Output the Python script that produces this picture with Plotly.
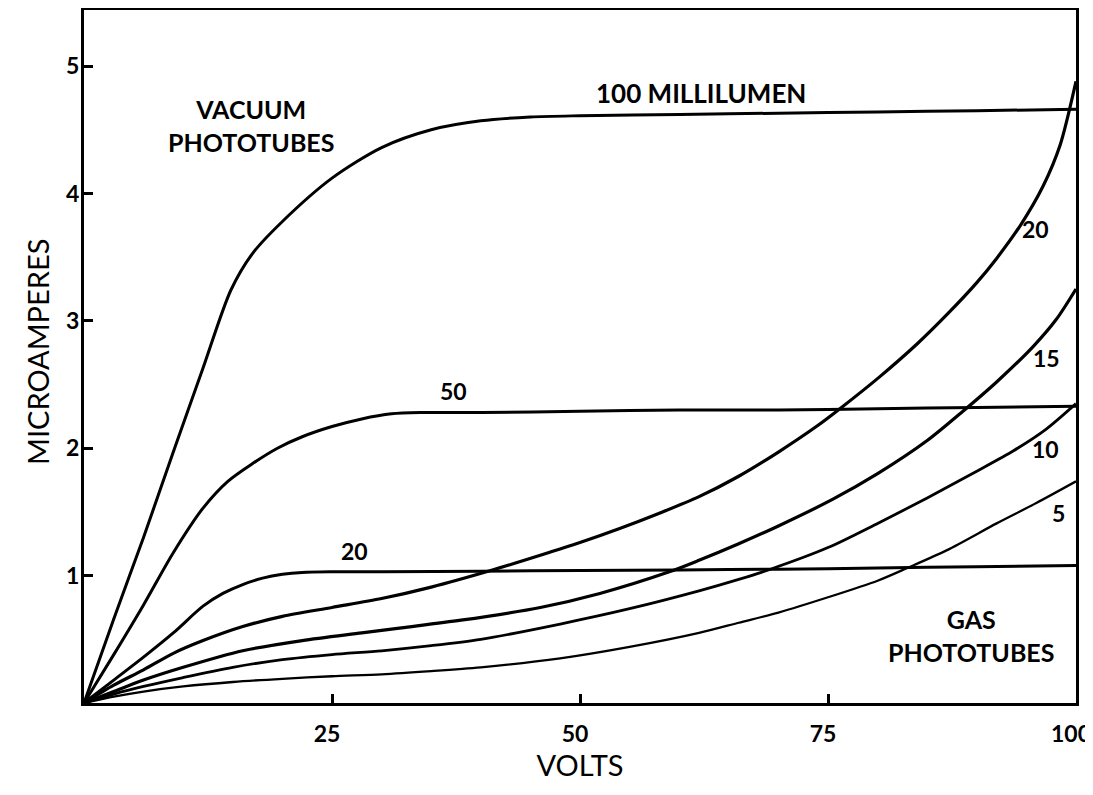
import plotly.graph_objects as go

# ---- data (volts vs microamperes) ----
vac100_v = [0, 3, 6, 9, 12, 14.8, 17, 20, 25, 30, 35, 40, 45, 50, 60, 70, 80, 90, 100]
vac100_i = [0, 0.66, 1.3, 1.97, 2.63, 3.24, 3.53, 3.78, 4.12, 4.36, 4.5, 4.57, 4.6, 4.61, 4.62, 4.63, 4.64, 4.65, 4.66]

vac50_v = [0, 3, 6, 9, 12, 14.5, 17, 19.5, 22, 25, 28, 31, 34, 40, 50, 60, 70, 80, 90, 100]
vac50_i = [0, 0.38, 0.77, 1.18, 1.53, 1.74, 1.88, 2.0, 2.09, 2.17, 2.23, 2.27, 2.28, 2.28, 2.29, 2.3, 2.3, 2.31, 2.32, 2.33]

vac20_v = [0, 3, 6, 9, 12, 14, 16, 18, 20, 22, 25, 30, 40, 50, 60, 70, 80, 90, 100]
vac20_i = [0, 0.18, 0.36, 0.55, 0.76, 0.86, 0.93, 0.98, 1.01, 1.025, 1.03, 1.03, 1.035, 1.04, 1.045, 1.05, 1.06, 1.07, 1.08]

gas20_v = [0, 3, 6, 9, 12, 16, 20, 25, 30, 35, 41, 46, 50, 54, 58, 62, 66, 70, 74, 76.2, 80.2, 84, 87, 90, 92, 94.4, 96.7, 98.4, 100]
gas20_i = [0, 0.14, 0.26, 0.39, 0.49, 0.6, 0.68, 0.75, 0.82, 0.91, 1.04, 1.16, 1.26, 1.37, 1.49, 1.62, 1.78, 1.97, 2.18, 2.31, 2.56, 2.82, 3.05, 3.3, 3.49, 3.75, 4.06, 4.38, 4.88]

gas15_v = [0, 3, 6, 10, 16, 22, 28, 32, 38, 46, 52, 59, 62, 66, 70, 75.5, 80, 85, 88.6, 92, 95.7, 98, 100]
gas15_i = [0, 0.09, 0.18, 0.28, 0.41, 0.49, 0.55, 0.59, 0.65, 0.75, 0.86, 1.03, 1.12, 1.25, 1.39, 1.6, 1.8, 2.06, 2.29, 2.52, 2.8, 3.01, 3.25]

gas10_v = [0, 3, 6, 10, 15, 20, 25, 30, 35, 40, 48, 55, 62, 66, 69.2, 75, 80, 85, 90, 93.7, 97, 100]
gas10_i = [0, 0.07, 0.13, 0.2, 0.28, 0.34, 0.38, 0.41, 0.45, 0.5, 0.62, 0.74, 0.88, 0.97, 1.05, 1.22, 1.41, 1.61, 1.82, 1.98, 2.15, 2.35]

gas5_v = [0, 3, 6, 10, 15, 20, 25, 30, 35, 40, 48, 55, 62, 66, 70, 75, 80, 83, 87, 92, 96, 100]
gas5_i = [0, 0.05, 0.09, 0.13, 0.165, 0.19, 0.21, 0.225, 0.25, 0.28, 0.35, 0.44, 0.55, 0.63, 0.71, 0.83, 0.96, 1.06, 1.2, 1.41, 1.57, 1.74]

x_ticks = [25, 50, 75, 100]
y_ticks = [1, 2, 3, 4, 5]

curves = [
    ("Vacuum 100 mlm", vac100_v, vac100_i, 3.0),
    ("Vacuum 50 mlm", vac50_v, vac50_i, 3.0),
    ("Vacuum 20 mlm", vac20_v, vac20_i, 3.0),
    ("Gas 20 mlm", gas20_v, gas20_i, 3.2),
    ("Gas 15 mlm", gas15_v, gas15_i, 3.2),
    ("Gas 10 mlm", gas10_v, gas10_i, 2.8),
    ("Gas 5 mlm", gas5_v, gas5_i, 2.3),
]

fig = go.Figure()
for name, xs, ys, w in curves:
    fig.add_trace(go.Scatter(
        x=xs, y=ys, mode="lines", name=name,
        line=dict(color="black", width=w, shape="spline", smoothing=0.8),
        showlegend=False, hoverinfo="x+y+name",
    ))

LBL = dict(family="Lato, 'Open Sans', sans-serif", size=26, color="black")

def label(text, x, y, size=26):
    fig.add_annotation(x=x, y=y, xref="x", yref="y", text="<b>%s</b>" % text,
                       showarrow=False, xanchor="center", yanchor="middle",
                       font=dict(LBL, size=size))

label("VACUUM<br>PHOTOTUBES", 16.8, 4.53, size=25)
label("100 MILLILUMEN", 62.2, 4.79)
label("50", 37.2, 2.45, size=23)
label("20", 27.3, 1.19, size=23)
label("20", 95.9, 3.72, size=23)
label("15", 97.0, 2.71, size=23)
label("10", 96.9, 1.99, size=23)
label("5", 98.2, 1.49, size=23)
label("GAS<br>PHOTOTUBES", 89.4, 0.53, size=25)

# y-axis title placed as a rotated annotation left of the tick labels
fig.add_annotation(x=0, y=0.5065, xref="paper", yref="paper", xshift=-46,
                   text="MICROAMPERES", textangle=-90, showarrow=False,
                   xanchor="center", yanchor="middle",
                   font=dict(family="Lato, sans-serif", size=29, color="black"))

axis_common = dict(
    showline=True, linecolor="black", linewidth=3, mirror=True,
    ticks="inside", ticklen=9, tickwidth=2.5, tickcolor="black",
    showgrid=False, zeroline=False, ticklabeloverflow="allow",
    tickfont=dict(family="Lato, sans-serif", size=23, color="black", weight="bold"),
)

fig.update_layout(
    width=1085, height=779,
    margin=dict(l=76, r=17, t=2, b=84, autoexpand=False),
    paper_bgcolor="white", plot_bgcolor="white",
    xaxis=dict(axis_common, range=[0, 100], tickvals=x_ticks,
               ticktext=[str(v) for v in x_ticks], ticklabelstandoff=8,
               ticklabelshift=-5,
               title=dict(text="VOLTS", standoff=8,
                          font=dict(family="Lato, sans-serif", size=29, color="black"))),
    yaxis=dict(axis_common, range=[0, 5.44], tickvals=y_ticks,
               ticktext=[str(v) for v in y_ticks], ticklabelstandoff=-3),
)

fig.write_html("out.html")
